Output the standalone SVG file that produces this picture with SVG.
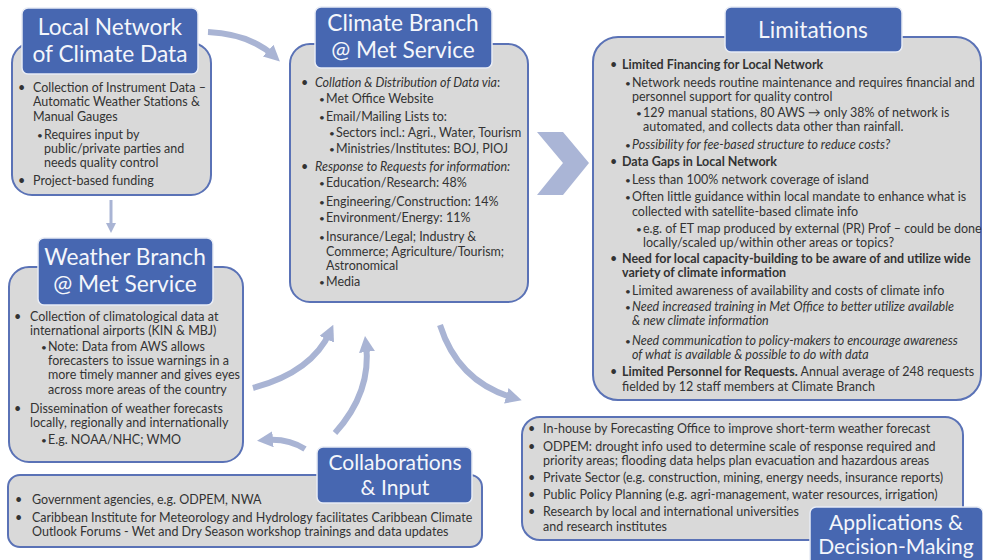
<svg xmlns="http://www.w3.org/2000/svg" width="983" height="560" viewBox="0 0 983 560">
<style>
.box{fill:#d9d9d9;stroke:#5a72b6;stroke-width:2}
.ttl{fill:#4767b1;stroke:#e8ecf5;stroke-width:1.5}
.tt{font-family:Lato,"Liberation Sans",sans-serif;font-size:22.7px;fill:#f4f6fb;text-anchor:middle}
.ts{font-size:21px}
.t{font-family:Lato,"Liberation Sans",sans-serif;font-size:12.5px;fill:#333}
.b{font-weight:bold}
.i{font-style:italic}
.s{font-size:10px}
.arr{fill:none;stroke:#a9b4d4;stroke-width:6;marker-end:url(#ah)}
.arr2{fill:none;stroke:#a9b4d4;stroke-width:3;marker-end:url(#ah2)}
</style>
<defs>
<marker id="ah" markerUnits="userSpaceOnUse" markerWidth="16" markerHeight="16" viewBox="0 0 16 16" refX="8" refY="8" orient="auto">
<path d="M0,0 L16,8 L0,16 z" fill="#a9b4d4"/>
</marker>
<marker id="ah2" markerUnits="userSpaceOnUse" markerWidth="10" markerHeight="10" viewBox="0 0 10 10" refX="5" refY="5" orient="auto">
<path d="M0,0 L10,5 L0,10 z" fill="#a9b4d4"/>
</marker>
</defs>
<rect width="983" height="560" fill="#ffffff"/>

<g id="connectors">
<path class="arr" d="M208,32 Q250,34 274,56"/>
<path class="arr2" d="M111,200 L111,228"/>
<path class="arr" d="M253,388 Q312,372 330,332"/>
<path class="arr" d="M335,433 Q372,392 366,344"/>
<path class="arr" d="M305,449 Q288,438 265,440"/>
<path class="arr" d="M440,325 Q458,382 514,398"/>
<polygon points="537,132 563,132 589,163 563,195 537,195 563,163" fill="#aab5d6"/>
</g>

<g id="local-network">
<rect class="box" x="12" y="43" width="199" height="152" rx="20"/>
<rect class="ttl" x="22" y="8" width="176" height="66" rx="6"/>
<text class="tt" x="110" y="35">Local Network</text>
<text class="tt" x="110" y="62">of Climate Data</text>
<text class="t"><tspan x="18" y="92">•</tspan><tspan x="33" y="92">Collection of Instrument Data –</tspan><tspan x="33" y="106">Automatic Weather Stations &amp;</tspan><tspan x="33" y="121">Manual Gauges</tspan><tspan x="37" y="139" class="s">•</tspan><tspan x="44" y="139">Requires input by</tspan><tspan x="44" y="153">public/private parties and</tspan><tspan x="44" y="167">needs quality control</tspan><tspan x="18" y="185">•</tspan><tspan x="33" y="185">Project-based funding</tspan></text>
</g>

<g id="weather-branch">
<rect class="box" x="9" y="267" width="234" height="195" rx="20"/>
<rect class="ttl" x="38" y="238" width="175" height="67" rx="6"/>
<text class="tt" x="125" y="265">Weather Branch</text>
<text class="tt" x="125" y="292">@ Met Service</text>
<text class="t"><tspan x="14" y="321">•</tspan><tspan x="30" y="321">Collection of climatological data at</tspan><tspan x="30" y="335">international airports (KIN &amp; MBJ)</tspan><tspan x="41" y="351" class="s">•</tspan><tspan x="48" y="351">Note: Data from AWS allows</tspan><tspan x="48" y="365">forecasters to issue warnings in a</tspan><tspan x="48" y="379">more timely manner and gives eyes</tspan><tspan x="48" y="394">across more areas of the country</tspan><tspan x="14" y="413">•</tspan><tspan x="30" y="413">Dissemination of weather forecasts</tspan><tspan x="30" y="427">locally, regionally and internationally</tspan><tspan x="41" y="444" class="s">•</tspan><tspan x="48" y="444">E.g. NOAA/NHC; WMO</tspan></text>
</g>

<g id="climate-branch">
<rect class="box" x="290" y="44" width="238" height="258" rx="20"/>
<rect class="ttl" x="315" y="7" width="177" height="61" rx="6"/>
<text class="tt" x="403" y="31">Climate Branch</text>
<text class="tt" x="403" y="58">@ Met Service</text>
<text class="t"><tspan x="301" y="87">•</tspan><tspan x="315" y="87" class="i">Collation &amp; Distribution of Data via</tspan><tspan>:</tspan><tspan x="319" y="103" class="s">•</tspan><tspan x="326" y="103">Met Office Website</tspan><tspan x="319" y="121" class="s">•</tspan><tspan x="326" y="121">Email/Mailing Lists to:</tspan><tspan x="329" y="137" class="s">•</tspan><tspan x="336" y="137">Sectors incl.: Agri., Water, Tourism</tspan><tspan x="329" y="153" class="s">•</tspan><tspan x="336" y="153">Ministries/Institutes: BOJ, PIOJ</tspan><tspan x="301" y="171">•</tspan><tspan x="315" y="171" class="i">Response to Requests for information:</tspan><tspan x="319" y="187" class="s">•</tspan><tspan x="326" y="187">Education/Research: 48%</tspan><tspan x="319" y="206" class="s">•</tspan><tspan x="326" y="206">Engineering/Construction: 14%</tspan><tspan x="319" y="222" class="s">•</tspan><tspan x="326" y="222">Environment/Energy: 11%</tspan><tspan x="319" y="241" class="s">•</tspan><tspan x="326" y="241">Insurance/Legal; Industry &amp;</tspan><tspan x="326" y="256">Commerce; Agriculture/Tourism;</tspan><tspan x="326" y="270">Astronomical</tspan><tspan x="319" y="286" class="s">•</tspan><tspan x="326" y="286">Media</tspan></text>
</g>

<g id="limitations">
<rect class="box" x="593" y="37" width="388" height="363" rx="25"/>
<rect class="ttl" x="725" y="7" width="177" height="45" rx="6"/>
<text class="tt" x="813" y="38">Limitations</text>
<text class="t"><tspan x="610" y="69">•</tspan><tspan x="622" y="69" class="b">Limited Financing for Local Network</tspan><tspan x="625" y="87" class="s">•</tspan><tspan x="632" y="87">Network needs routine maintenance and requires financial and</tspan><tspan x="632" y="101">personnel support for quality control</tspan><tspan x="636" y="117" class="s">•</tspan><tspan x="643" y="117">129 manual stations, 80 AWS → only 38% of network is</tspan><tspan x="643" y="131">automated, and collects data other than rainfall.</tspan><tspan x="625" y="149" class="s">•</tspan><tspan x="632" y="149" class="i">Possibility for fee-based structure to reduce costs?</tspan><tspan x="610" y="166">•</tspan><tspan x="622" y="166" class="b">Data Gaps in Local Network</tspan><tspan x="625" y="184" class="s">•</tspan><tspan x="632" y="184">Less than 100% network coverage of island</tspan><tspan x="625" y="201" class="s">•</tspan><tspan x="632" y="201">Often little guidance within local mandate to enhance what is</tspan><tspan x="632" y="216">collected with satellite-based climate info</tspan><tspan x="636" y="233" class="s">•</tspan><tspan x="643" y="233">e.g. of ET map produced by external (PR) Prof – could be done</tspan><tspan x="643" y="247">locally/scaled up/within other areas or topics?</tspan><tspan x="610" y="263">•</tspan><tspan x="622" y="263" class="b">Need for local capacity-building  to be aware of and utilize wide</tspan><tspan x="622" y="277" class="b">variety of climate information</tspan><tspan x="625" y="295" class="s">•</tspan><tspan x="632" y="295">Limited awareness of availability and costs of climate info</tspan><tspan x="625" y="311" class="s">•</tspan><tspan x="632" y="311" class="i">Need increased training in Met Office to better utilize available</tspan><tspan x="632" y="325" class="i">&amp; new climate information</tspan><tspan x="625" y="345" class="s">•</tspan><tspan x="632" y="345" class="i">Need communication to policy-makers to encourage awareness</tspan><tspan x="632" y="359" class="i">of what is available &amp; possible to do with data</tspan><tspan x="610" y="376">•</tspan><tspan x="622" y="376" class="b">Limited Personnel for Requests.</tspan><tspan> Annual average of 248 requests</tspan><tspan x="622" y="391">fielded by 12 staff members at Climate Branch</tspan></text>
</g>

<g id="applications">
<rect class="box" x="522" y="417" width="441" height="123" rx="18"/>
<rect class="ttl" x="810" y="507" width="173" height="60" rx="6"/>
<text class="tt ts" x="896" y="530">Applications &amp;</text>
<text class="tt ts" x="896" y="554">Decision-Making</text>
<text class="t"><tspan x="528" y="433">•</tspan><tspan x="543" y="433">In-house by Forecasting Office to improve short-term weather forecast</tspan><tspan x="528" y="451">•</tspan><tspan x="543" y="451">ODPEM: drought info used to determine scale of response required and</tspan><tspan x="543" y="465">priority areas; flooding data helps plan evacuation and hazardous areas</tspan><tspan x="528" y="482">•</tspan><tspan x="543" y="482">Private Sector (e.g. construction, mining, energy needs, insurance reports)</tspan><tspan x="528" y="499">•</tspan><tspan x="543" y="499">Public Policy Planning (e.g. agri-management, water resources, irrigation)</tspan><tspan x="528" y="516">•</tspan><tspan x="543" y="516">Research by local and international universities</tspan><tspan x="543" y="531">and research institutes</tspan></text>
</g>

<g id="collaborations">
<rect class="box" x="8" y="475" width="474" height="72" rx="12"/>
<rect class="ttl" x="317" y="447" width="155" height="56" rx="6"/>
<text class="tt ts" x="395" y="470">Collaborations</text>
<text class="tt ts" x="395" y="495">&amp; Input</text>
<text class="t"><tspan x="15" y="504">•</tspan><tspan x="32" y="504">Government agencies, e.g. ODPEM, NWA</tspan><tspan x="15" y="522">•</tspan><tspan x="32" y="522">Caribbean Institute for Meteorology and Hydrology facilitates Caribbean Climate</tspan><tspan x="32" y="536">Outlook Forums - Wet and Dry Season workshop trainings and data updates</tspan></text>
</g>
</svg>
